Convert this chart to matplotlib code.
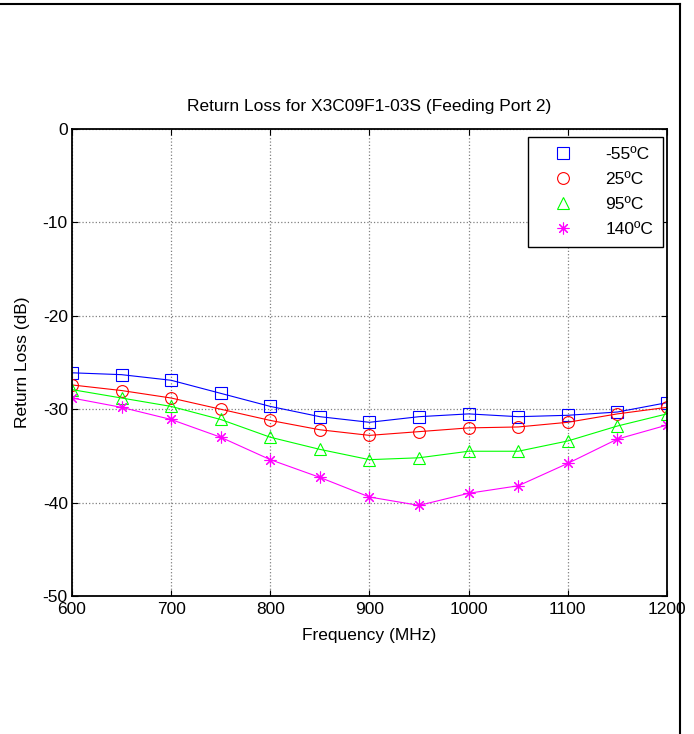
import matplotlib
matplotlib.use('Agg')
import matplotlib.pyplot as plt
import numpy as np

plt.rcParams['font.family'] = ['Liberation Sans', 'DejaVu Sans']
plt.rcParams['axes.unicode_minus'] = False

# frequency points (MHz) where markers were taken
freq = [600, 650, 700, 750, 800, 850, 900, 950, 1000, 1050, 1100, 1150, 1200]

# return loss (dB) per temperature
rl_m55 = [-26.1, -26.3, -26.9, -28.3, -29.7, -30.8, -31.4, -30.8, -30.5, -30.8, -30.65, -30.3, -29.3]
rl_25 = [-27.4, -28.0, -28.8, -30.0, -31.2, -32.2, -32.8, -32.4, -32.0, -31.9, -31.4, -30.5, -29.8]
rl_95 = [-27.9, -28.8, -29.7, -31.1, -33.0, -34.3, -35.4, -35.2, -34.5, -34.5, -33.4, -31.8, -30.5]
rl_140 = [-28.8, -29.8, -31.1, -33.0, -35.4, -37.3, -39.4, -40.3, -39.0, -38.2, -35.8, -33.2, -31.7]

labels = ['-55ºC', '25ºC', '95ºC', '140ºC']
colors = ['#0000FF', '#FF0000', '#00FF00', '#FF00FF']
markers = ['s', 'o', '^', (8, 2, 0)]
series = [rl_m55, rl_25, rl_95, rl_140]

fig = plt.figure(figsize=(6.94, 7.34), dpi=100)
ax = fig.add_axes([0.1037, 0.188, 0.8573, 0.6362])

for y, c, m, lab in zip(series, colors, markers, labels):
	ax.plot(freq, y, '-', color=c, linewidth=0.8)
	ax.plot(freq, y, linestyle='none', marker=m, markersize=8.5, markerfacecolor='none',
			markeredgecolor=c, markeredgewidth=0.8, label=lab)

ax.set_xlim(600, 1200)
ax.set_ylim(-50, 0)
ax.set_xticks(np.arange(600, 1201, 100))
ax.set_yticks(np.arange(-50, 1, 10))
ax.grid(True, color='#808080', linestyle=':', linewidth=0.9)
ax.tick_params(direction='in', top=True, right=True, length=4, labelsize=12.5)
ax.tick_params(axis='x', pad=4)
ax.tick_params(axis='y', pad=3)
for s in ax.spines.values():
	s.set_linewidth(1.3)

ax.set_title('Return Loss for X3C09F1-03S (Feeding Port 2)', fontsize=12.5, pad=13)
ax.set_xlabel('Frequency (MHz)', fontsize=12.5, labelpad=8)
ax.set_ylabel('Return Loss (dB)', fontsize=12.5, labelpad=9)

leg = ax.legend(loc='upper right', bbox_to_anchor=(0.993, 0.983), fontsize=12.5,
				fancybox=False, framealpha=1, edgecolor='black', borderaxespad=0,
				handlelength=2.9, handletextpad=1.0, labelspacing=0.58, borderpad=0.55)
leg.get_frame().set_linewidth(1.0)

# outer frame of the exported picture (top and right only)
fig.add_artist(plt.Line2D([0, 0.98], [0.9945, 0.9945], color='black', linewidth=1.5, transform=fig.transFigure))
fig.add_artist(plt.Line2D([0.98, 0.98], [0, 0.9945], color='black', linewidth=1.5, transform=fig.transFigure))

plt.savefig('out.png', dpi=100)
plt.close()
